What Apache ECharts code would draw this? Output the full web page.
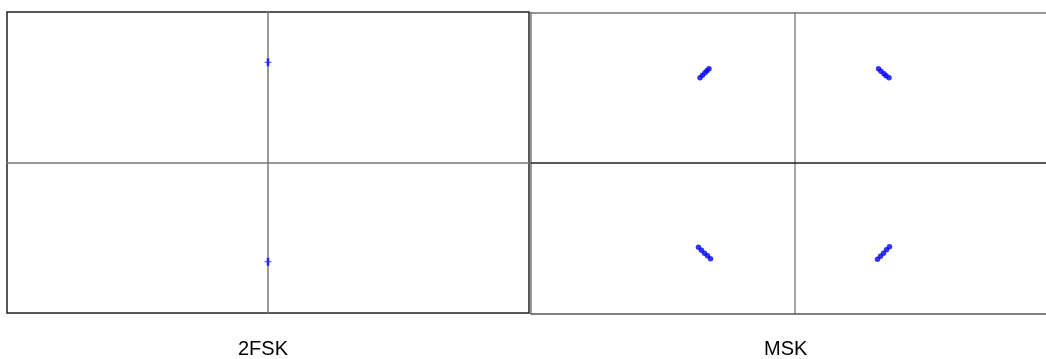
<!DOCTYPE html>
<html>
<head>
<meta charset="utf-8">
<script src="https://cdn.jsdelivr.net/npm/echarts@6/dist/echarts.min.js"></script>
<style>
html,body{margin:0;padding:0;background:#fff;}
#chart{width:1046px;height:359px;}
</style>
</head>
<body>
<div id="chart"></div>
<script>
// Panel titles
const panelTitles = ['2FSK', 'MSK'];

// 2FSK constellation points [I, Q]
const fskPoints = [[0, 1.0], [0, -0.99]];

// MSK constellation points [I, Q] (short streaks in each quadrant)
const mskTopLeft = [[-0.95, 0.85], [-0.925, 0.875], [-0.90, 0.90], [-0.88, 0.92], [-0.86, 0.94]];
const mskTopRight = [[0.835, 0.94], [0.86, 0.915], [0.89, 0.89], [0.91, 0.87], [0.94, 0.85]];
const mskBottomLeft = [[-0.965, -0.84], [-0.935, -0.87], [-0.905, -0.90], [-0.875, -0.925], [-0.845, -0.955]];
const mskBottomRight = [[0.825, -0.96], [0.855, -0.93], [0.885, -0.90], [0.915, -0.865], [0.945, -0.835]];

// Axis ranges
const fskXRange = [-1.5, 1.5];
const fskYRange = [-1.5, 1.5];
const mskXRange = [-2.64, 2.51];
const mskYRange = [-1.5, 1.5];

const chart = echarts.init(document.getElementById('chart'), null, {renderer: 'canvas'});

function axisCfg(range, lineColor, lineWidth, extra) {
  return Object.assign({
    type: 'value',
    min: range[0],
    max: range[1],
    axisLine: {show: true, onZero: true, lineStyle: {color: lineColor, width: lineWidth}},
    axisTick: {show: false},
    axisLabel: {show: false},
    splitLine: {show: false}
  }, extra);
}
function edgeAxis(range, gridIndex, position, color, width) {
  return {
    type: 'value', gridIndex: gridIndex, position: position,
    min: range[0], max: range[1],
    axisLine: {show: true, onZero: false, lineStyle: {color: color, width: width}},
    axisTick: {show: false}, axisLabel: {show: false}, splitLine: {show: false}
  };
}

const plusPath = 'path://M2.5,0H5.5V3.5H8V4.5H5.5V8H2.5V4.5H0V3.5H2.5Z';
const titleFont = '20px "Liberation Sans", Arial, sans-serif';

const option = {
  backgroundColor: '#ffffff',
  animation: false,
  grid: [
    {left: 7, top: 12, width: 522, height: 301, show: true, borderColor: '#222', borderWidth: 1.5, backgroundColor: 'transparent'},
    {left: 531, top: 12.5, width: 515, height: 301, show: false}
  ],
  xAxis: [
    axisCfg(fskXRange, '#777', 1.5, {gridIndex: 0}),
    axisCfg(mskXRange, '#222', 1.5, {gridIndex: 1}),
    edgeAxis(mskXRange, 1, 'top', '#777', 1.5),
    edgeAxis(mskXRange, 1, 'bottom', '#555', 1.5)
  ],
  yAxis: [
    axisCfg(fskYRange, '#777', 1.5, {gridIndex: 0}),
    axisCfg(mskYRange, '#888', 1.5, {gridIndex: 1}),
    edgeAxis(mskYRange, 1, 'left', '#777', 1.5)
  ],
  series: [
    {type: 'scatter', xAxisIndex: 0, yAxisIndex: 0, data: fskPoints, symbol: plusPath, symbolSize: [7, 8], itemStyle: {color: '#0a0aff'}},
    {type: 'scatter', xAxisIndex: 1, yAxisIndex: 1, data: mskTopLeft, symbol: 'circle', symbolSize: 5.5, itemStyle: {color: '#0000ff'}},
    {type: 'scatter', xAxisIndex: 1, yAxisIndex: 1, data: mskTopRight, symbol: 'circle', symbolSize: 5.5, itemStyle: {color: '#0000ff'}},
    {type: 'scatter', xAxisIndex: 1, yAxisIndex: 1, data: mskBottomLeft, symbol: 'circle', symbolSize: 5.5, itemStyle: {color: '#0000ff'}},
    {type: 'scatter', xAxisIndex: 1, yAxisIndex: 1, data: mskBottomRight, symbol: 'circle', symbolSize: 5.5, itemStyle: {color: '#0000ff'}}
  ],
  graphic: [
    {type: 'text', left: 268 - 30, top: 339, style: {text: panelTitles[0], font: titleFont, fill: '#000', width: 60, align: 'center'}},
    {type: 'text', left: 794 - 30, top: 339, style: {text: panelTitles[1], font: titleFont, fill: '#000', width: 60, align: 'center'}}
  ]
};
chart.setOption(option);
</script>
</body>
</html>
